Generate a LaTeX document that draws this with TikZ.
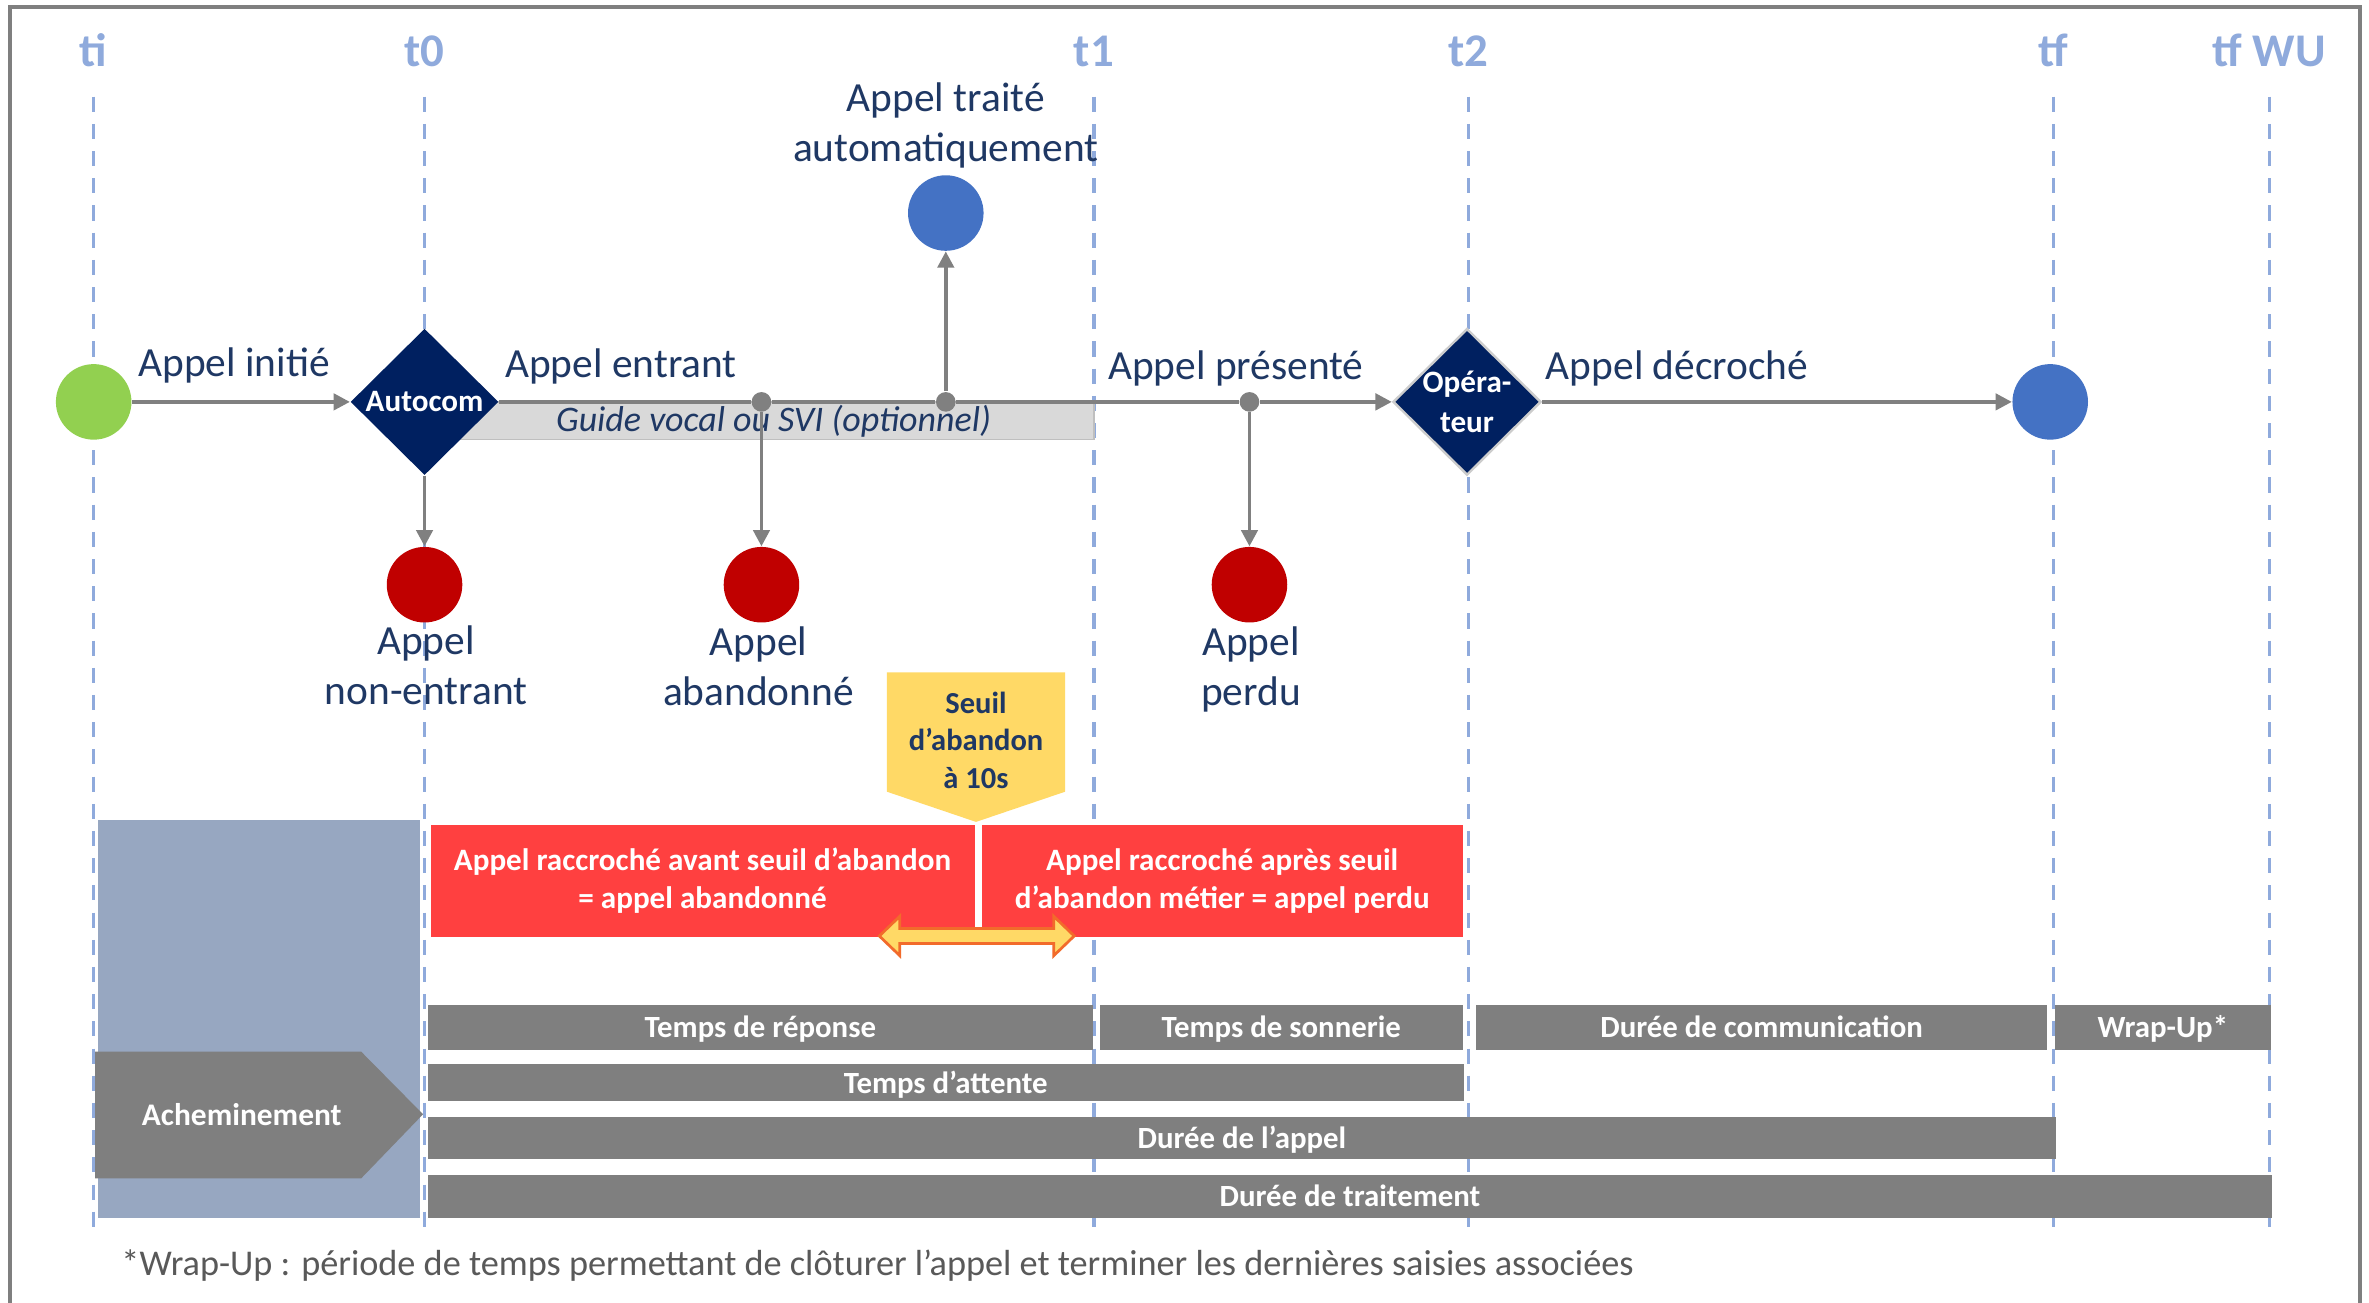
\documentclass[tikz,border=0pt]{standalone}
\usepackage{fontspec}
\setmainfont{Carlito}
\usetikzlibrary{shapes.geometric,arrows.meta}

\definecolor{navyfill}{HTML}{002060}
\definecolor{labelnavy}{HTML}{1F3864}
\definecolor{tickblue}{HTML}{8FAADC}
\definecolor{startgreen}{HTML}{92D050}
\definecolor{endblue}{HTML}{4472C4}
\definecolor{lossred}{HTML}{C00000}
\definecolor{flowgray}{HTML}{808080}
\definecolor{svigray}{HTML}{D9D9D9}
\definecolor{sviedge}{HTML}{BFBFBF}
\definecolor{gold}{HTML}{FFD966}
\definecolor{alertred}{HTML}{FF4040}
\definecolor{slate}{HTML}{97A7C1}
\definecolor{bargray}{HTML}{7F7F7F}
\definecolor{edgeorange}{HTML}{F26B2B}
\definecolor{notegray}{HTML}{595959}
\definecolor{framegray}{HTML}{7F7F7F}

\tikzset{
  timelabel/.style={text=tickblue, font=\fontsize{15.5}{18}\selectfont\bfseries, anchor=base, inner sep=0pt},
  timeline/.style={draw=tickblue, line width=1.1pt, dash pattern=on 5pt off 4pt},
  event/.style={circle, minimum size=25pt, inner sep=0pt},
  junction/.style={circle, fill=flowgray, minimum size=6.5pt, inner sep=0pt},
  gate/.style={diamond, fill=navyfill, minimum width=49pt, minimum height=48.5pt, inner sep=0pt},
  gatetext/.style={text=white, font=\fontsize{10.3}{13.5}\selectfont\bfseries, align=center, inner sep=0pt},
  flow/.style={draw=flowgray, line width=1.2pt, -{Triangle[length=5.4pt,width=5.4pt]}},
  caption/.style={text=labelnavy, font=\fontsize{13.7}{16.5}\selectfont, align=center, anchor=base, inner sep=0pt},
  svibox/.style={fill=svigray, draw=sviedge, line width=0.5pt, minimum width=212pt, minimum height=12.5pt,
    inner sep=0pt, text=labelnavy, font=\fontsize{11.9}{14}\selectfont\itshape},
  alertbox/.style={fill=alertred, text=white, font=\fontsize{10.3}{12.6}\selectfont\bfseries, align=center, inner sep=0pt},
  seuiltext/.style={text=labelnavy, font=\fontsize{10.1}{12.5}\selectfont\bfseries, align=center, inner sep=0pt},
  routetext/.style={text=white, font=\fontsize{10.4}{12}\selectfont\bfseries, inner sep=0pt},
  phasebar/.style={fill=bargray, text=white, font=\fontsize{10.2}{12}\selectfont\bfseries, inner sep=0pt,
    text height=7pt, text depth=0pt},
}

\begin{document}
\begin{tikzpicture}[x=0.5pt,y=-0.5pt]
\clip (0,0) rectangle (1568,862);
\fill[white] (0,0) rectangle (1568,862);

% outer frame, open at the bottom
\draw[framegray, line width=1.2pt] (6.6,900) -- (6.6,4.6) -- (1562,4.6) -- (1562,900);

% time markers and their dashed guides
\foreach \tk/\x/\txt in {ti/62/ti, t0/281/t0, t1/724/t1, t2/972/t2, tf/1359/tf, tfwu/1502/tf WU}{
  \node[timelabel] (lab-\tk) at (\x,44) {\txt};
  \coordinate (\tk-top) at (\x,64);
  \coordinate (\tk-bot) at (\x,815);
  \draw[timeline] (\tk-top) -- (\tk-bot);
}

% optional voice-guide band under the main flow
\node[svibox] (svi) at (512,278.5) {Guide vocal ou SVI (optionnel)};

% events and gates
\node[event, fill=startgreen] (start) at (62,266) {};
\node[gate, label={[gatetext]center:Autocom}] (autocom) at (281,266) {};
\node[gate, draw=white!80!black, line width=0.8pt, label={[gatetext]center:Opéra-\\teur}] (operateur) at (971,266) {};
\node[junction] (j1) at (504,266) {};
\node[junction] (j2) at (626,266) {};
\node[junction] (j3) at (827,266) {};
\node[event, fill=endblue] (auto) at (626,141) {};
\node[event, fill=lossred] (nonentrant) at (281,387) {};
\node[event, fill=lossred] (abandon) at (504,387) {};
\node[event, fill=lossred] (perdu) at (827,387) {};
\node[event, fill=endblue] (fin) at (1357,266) {};

% connectors
\draw[flow] (start) -- (autocom);
\draw[flow] (autocom) -- (j1) -- (j2) -- (j3) -- (operateur);
\draw[flow] (autocom) -- (nonentrant);
\draw[flow] (j1) -- (abandon);
\draw[flow] (j2) -- (auto);
\draw[flow] (j3) -- (perdu);
\draw[flow] (operateur) -- (fin);

% captions (base anchor sits on the last line)
\node[caption] (c-init) at (155,249) {Appel initié};
\node[caption] (c-entrant) at (411,250) {Appel entrant};
\node[caption] (c-present) at (818,251) {Appel présenté};
\node[caption] (c-decroche) at (1110,251) {Appel décroché};
\node[caption] (c-auto) at (626,107) {Appel traité\\automatiquement};
\node[caption] (c-nonentrant) at (282,466) {Appel\\non-entrant};
\node[caption] (c-abandon) at (502,467) {Appel\\abandonné};
\node[caption] (c-perdu) at (828,467) {Appel\\perdu};

% routing phase
\fill[slate] (65,543) rectangle (278,806);
\fill[bargray] (63,696) -- (239,696) -- (280,737.5) -- (239,780) -- (63,780) -- cycle;
\node[routetext] (achem) at (160,738) {Acheminement};

% abandon threshold marker
\fill[gold] (587,445) -- (705,445) -- (705,524) -- (646,544) -- (587,524) -- cycle;
\node[seuiltext] (seuil) at (646,490) {Seuil\\d’abandon\\à 10s};

% hang-up outcomes
\node[alertbox, minimum width=180pt, minimum height=37pt] (avant) at (465,583)
  {Appel raccroché avant seuil d’abandon\\= appel abandonné};
\node[alertbox, minimum width=159pt, minimum height=37pt] (apres) at (809,583)
  {Appel raccroché après seuil\\d’abandon métier = appel perdu};

% double arrow straddling the threshold
\filldraw[fill=gold, draw=edgeorange, line width=0.9pt, line join=miter]
  (582,619.5) -- (595.5,606.5) -- (595.5,614.5) -- (697.5,614.5) -- (697.5,606.5) -- (711,619.5)
  -- (697.5,632.5) -- (697.5,624.5) -- (595.5,624.5) -- (595.5,632.5) -- cycle;

% duration bars
\node[phasebar, minimum width=220.25pt, minimum height=15pt] (reponse) at (503.25,680) {Temps de réponse};
\node[phasebar, minimum width=120pt, minimum height=15pt] (sonnerie) at (848,680) {Temps de sonnerie};
\node[phasebar, minimum width=189pt, minimum height=15pt] (comm) at (1166,680) {Durée de communication};
\node[phasebar, minimum width=71.5pt, minimum height=15pt] (wrap) at (1431.5,680) {Wrap-Up*};
\node[phasebar, minimum width=343pt, minimum height=12.5pt] (attente) at (626,716.5) {Temps d’attente};
\node[phasebar, minimum width=539pt, minimum height=14pt] (duree) at (822,753) {Durée de l’appel};
\node[phasebar, minimum width=610.5pt, minimum height=14.25pt] (traitement) at (893.5,791.75) {Durée de traitement};

% footnote
\node[anchor=base west, text=notegray, font=\fontsize{12}{14}\selectfont, inner sep=0pt] (note) at (80,844)
  {*Wrap-Up : période de temps permettant de clôturer l’appel et terminer les dernières saisies associées};
\end{tikzpicture}
\end{document}
